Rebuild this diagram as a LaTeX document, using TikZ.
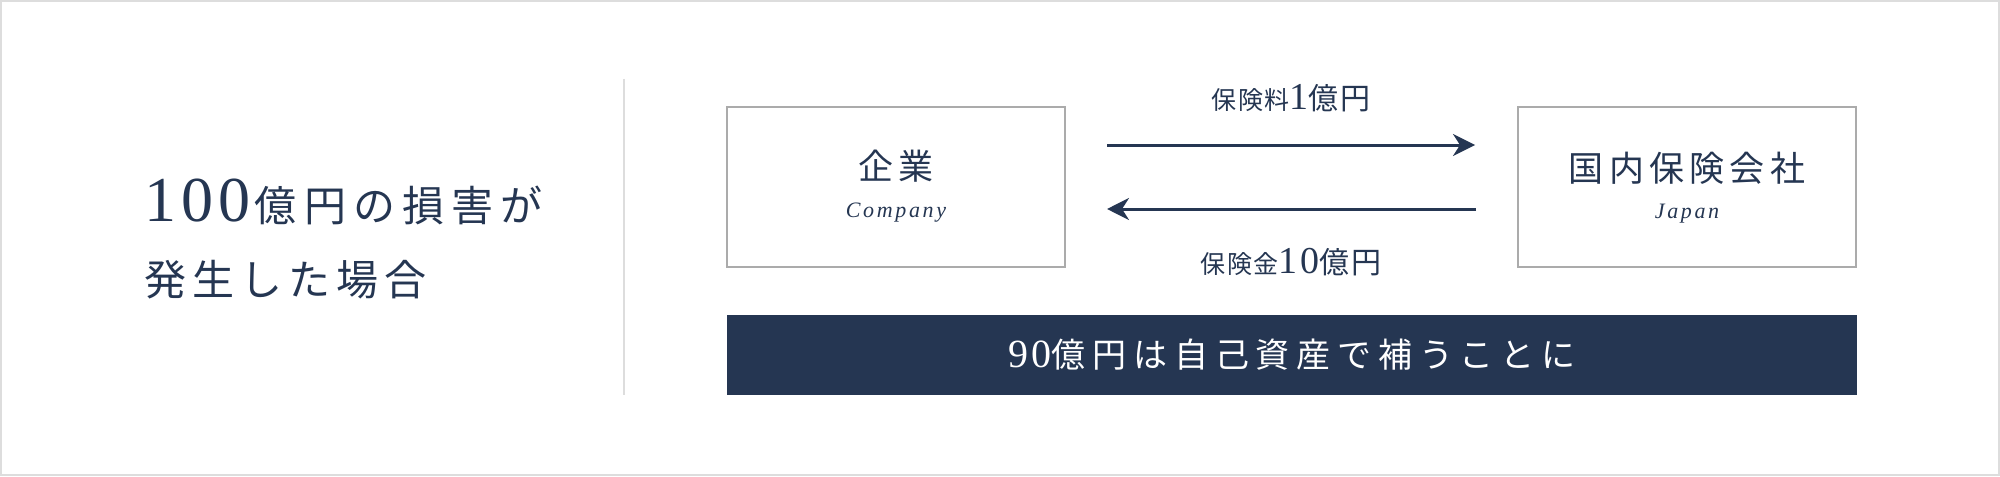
\documentclass[tikz,border=0pt]{standalone}
\usepackage{fontspec}
\setmainfont{Liberation Serif}
\newfontfamily\cjk[LetterSpace=15]{Noto Sans CJK JP}
\newfontfamily\numfont[LetterSpace=8]{Liberation Serif}
\newfontfamily\latinit[LetterSpace=12]{Liberation Serif}
\usetikzlibrary{positioning,calc,arrows.meta}
\definecolor{navy}{HTML}{253652}
\definecolor{framegray}{HTML}{ABABAB}
\definecolor{rulegray}{HTML}{DDDDDD}
\tikzset{every picture/.style={line width=0.75pt}}

\begin{document}
\begin{tikzpicture}[x=0.5pt,y=0.5pt,yscale=-1,xscale=1,
  partybox/.style={draw=framegray,line width=1pt,minimum width=169pt,minimum height=80pt,inner sep=0pt},
  flow/.style={navy,line width=1.5pt,-{Stealth[length=11pt,width=11pt,inset=3.5pt]}},
  txt/.style={inner sep=0pt,text=navy},
  ]
	%set diagram size 2000 x 476
	\useasboundingbox (0,0) rectangle (2000,476);
	%Outer frame
	\draw [rulegray,line width=1pt] (1,1) rectangle (1999,475);
	%Divider
	\draw [rulegray] (624,79) -- (624,395);

	% Heading
	\node [txt,anchor=base west] (head1) at (144,221) {{\numfont\fontsize{32}{32}\selectfont 100}\hspace{2pt}{\cjk\addfontfeatures{LetterSpace=17}\fontsize{21}{21}\selectfont 億円の損害が}};
	\node [txt,anchor=base west] (head2) at (144,295) {\cjk\addfontfeatures{LetterSpace=14}\fontsize{21}{21}\selectfont 発生した場合};

	% Boxes
	\node [partybox] (co) at (896,187) {};
	\node [partybox] (jp) at (1687,187) {};
	\node [txt] (co-ja) at ($(co)+(0,-21)$) {\cjk\fontsize{17.5}{17.5}\selectfont 企業};
	\node [txt] (co-en) at ($(co)+(0,26)$) {\latinit\itshape\fontsize{11}{11}\selectfont Company};
	\node [txt] (jp-ja) at ($(jp)+(0,-19)$) {\cjk\fontsize{17.5}{17.5}\selectfont 国内保険会社};
	\node [txt] (jp-en) at ($(jp)+(0,27)$) {\latinit\itshape\fontsize{11}{11}\selectfont Japan};

	% Flows
	\draw [flow] ($(co.east)+(41,-42)$) -- ($(jp.west)+(-42,-42)$);
	\draw [flow] ($(jp.west)+(-41,22)$) -- ($(co.east)+(41,22)$);
	\node [txt,anchor=base] (prem) at (1291,110) {{\cjk\addfontfeatures{LetterSpace=6}\fontsize{12.5}{12.5}\selectfont 保険料}{\numfont\fontsize{19}{19}\selectfont 1}{\cjk\addfontfeatures{LetterSpace=6}\fontsize{15}{15}\selectfont 億円}};
	\node [txt,anchor=base] (claim) at (1291,273) {{\cjk\addfontfeatures{LetterSpace=6}\fontsize{12.5}{12.5}\selectfont 保険金}{\numfont\fontsize{19}{19}\selectfont 10}{\cjk\addfontfeatures{LetterSpace=6}\fontsize{15}{15}\selectfont 億円}};

	% Bar
	\node [fill=navy,minimum width=565pt,minimum height=40pt,inner sep=0pt,text=white] (self) at (1292,355) {{\numfont\fontsize{20}{20}\selectfont 90}{\cjk\addfontfeatures{LetterSpace=20}\fontsize{17}{17}\selectfont 億円は自己資産で補うことに}};
\end{tikzpicture}
\end{document}
